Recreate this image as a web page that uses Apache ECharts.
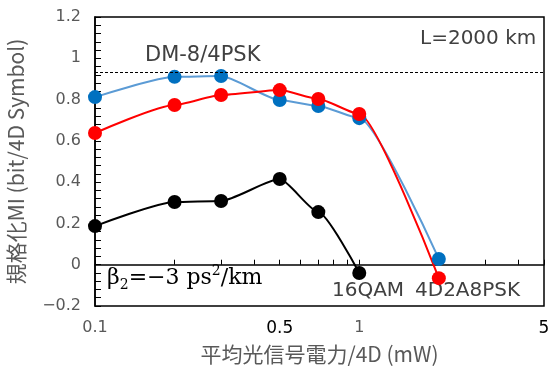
<!DOCTYPE html>
<html>
<head>
<meta charset="utf-8">
<script src="https://cdn.jsdelivr.net/npm/echarts@6/dist/echarts.min.js"></script>
<style>
html,body{margin:0;padding:0;background:#fff}
#echarts_container{width:550px;height:367px}
</style>
</head>
<body>
<div id="echarts_container"></div>
<script>
var chartDom = document.getElementById('echarts_container');
var myChart = echarts.init(chartDom);
var option;

// 平均光信号電力/4D (mW)
let power = [0.1, 0.2, 0.3, 0.5, 0.7, 1, 2]
let dm84psk = [0.812, 0.91, 0.914, 0.798, 0.769, 0.71, 0.028]
let a8psk = [0.638, 0.774, 0.822, 0.846, 0.803, 0.73, -0.065]
let qam16 = [0.187, 0.304, 0.309, 0.415, 0.255, -0.04]
let xLabels = [0.1, 0.5, 1, 5]
let xTicks = [0.1, 0.2, 0.3, 0.4, 0.5, 0.6, 0.7, 0.8, 0.9, 1, 2, 3, 4, 5]
let refLevel = 0.93

const pairs = (ys) => ys.map((y, i) => [power[i], y])

option = {
    animation: false,
    textStyle: {fontFamily: 'DejaVu Sans, Noto Sans CJK JP'},
    grid: {
        left: 95, right: 6, top: 17, bottom: 61,
        outerBoundsMode: 'none',
        containLabel: false,
        show: true, borderColor: '#000', borderWidth: 1.5
    },
    xAxis: {
        type: 'log',
        logBase: 10,
        min: 0.1,
        max: 5,
        name: '平均光信号電力/4D (mW)',
        nameLocation: 'middle',
        nameGap: 38,
        nameTextStyle: {fontSize: 21, color: '#595959', fontFamily: 'Noto Sans CJK JP'},
        axisLine: {lineStyle: {color: '#000', width: 1.5}},
        axisTick: {inside: true, length: 5, customValues: xTicks, lineStyle: {color: '#000'}},
        splitLine: {show: false},
        axisLabel: {
            customValues: xLabels,
            margin: 14,
            formatter: function (v) {
                let s = String(Math.round(v * 10) / 10)
                return (s === '0.5' || s === '5') ? '{b|' + s + '}' : '{g|' + s + '}'
            },
            rich: {
                g: {fontSize: 16, color: '#595959'},
                b: {fontSize: 17, color: '#000'}
            }
        }
    },
    yAxis: {
        type: 'value',
        min: -0.2,
        max: 1.2,
        interval: 0.2,
        name: '規格化MI (bit/4D Symbol)',
        nameLocation: 'middle',
        nameGap: 68,
        nameTextStyle: {fontSize: 21, color: '#595959', fontFamily: 'Noto Sans CJK JP'},
        axisLine: {show: true, lineStyle: {color: '#000', width: 1.5}},
        axisTick: {inside: true, length: 6, lineStyle: {color: '#000'}},
        minorTick: {show: true, splitNumber: 5, length: 6, lineStyle: {color: '#000'}},
        splitLine: {show: false},
        axisLabel: {
            fontSize: 16, color: '#595959', margin: 14,
            formatter: function (v) {
                let s = String(Math.round(v * 10) / 10)
                return s.replace('-', '−')
            }
        }
    },
    series: [
        {
            name: '16QAM',
            type: 'line',
            smooth: 0.2,
            smoothMonotone: 'x',
            data: pairs(qam16),
            symbol: 'circle',
            symbolSize: 14,
            itemStyle: {color: '#000'},
            lineStyle: {color: '#000', width: 2}
        },
        {
            name: 'DM-8/4PSK',
            type: 'line',
            smooth: 0.2,
            smoothMonotone: 'x',
            data: pairs(dm84psk),
            symbol: 'circle',
            symbolSize: 14,
            itemStyle: {color: '#0070C0'},
            lineStyle: {color: '#5B9BD5', width: 2},
            markLine: {
                silent: true,
                symbol: 'none',
                label: {show: false},
                lineStyle: {color: '#000', width: 1, type: [3, 2]},
                data: [{yAxis: refLevel}]
            }
        },
        {
            name: '4D2A8PSK',
            type: 'line',
            smooth: 0.2,
            smoothMonotone: 'x',
            data: pairs(a8psk),
            symbol: 'circle',
            symbolSize: 14,
            itemStyle: {color: '#FF0000'},
            lineStyle: {color: '#FF0000', width: 2}
        }
    ],
    graphic: [
        {type: 'text', left: 145, top: 45, style: {text: 'DM-8/4PSK', fontSize: 21, fill: '#404040', fontFamily: 'DejaVu Sans'}},
        {type: 'text', left: 420, top: 29, style: {text: 'L=2000 km', fontSize: 20, fill: '#404040', fontFamily: 'DejaVu Sans'}},
        {type: 'text', left: 332, top: 281, style: {text: '16QAM', fontSize: 20, fill: '#404040', fontFamily: 'DejaVu Sans'}},
        {type: 'text', left: 415, top: 281, style: {text: '4D2A8PSK', fontSize: 20, fill: '#404040', fontFamily: 'DejaVu Sans'}},
        {
            type: 'text', left: 107, top: 264,
            style: {
                text: '{a|β}{s|2}{a|=−3 ps}{p|2}{a|/km}',
                fill: '#000',
                rich: {
                    a: {fontSize: 22, fontFamily: 'DejaVu Serif', lineHeight: 28, verticalAlign: 'middle'},
                    s: {fontSize: 14, fontFamily: 'DejaVu Serif', lineHeight: 14, verticalAlign: 'bottom'},
                    p: {fontSize: 14, fontFamily: 'DejaVu Serif', lineHeight: 14, verticalAlign: 'top'}
                }
            }
        }
    ]
};

option && myChart.setOption(option);
</script>
</body>
</html>
